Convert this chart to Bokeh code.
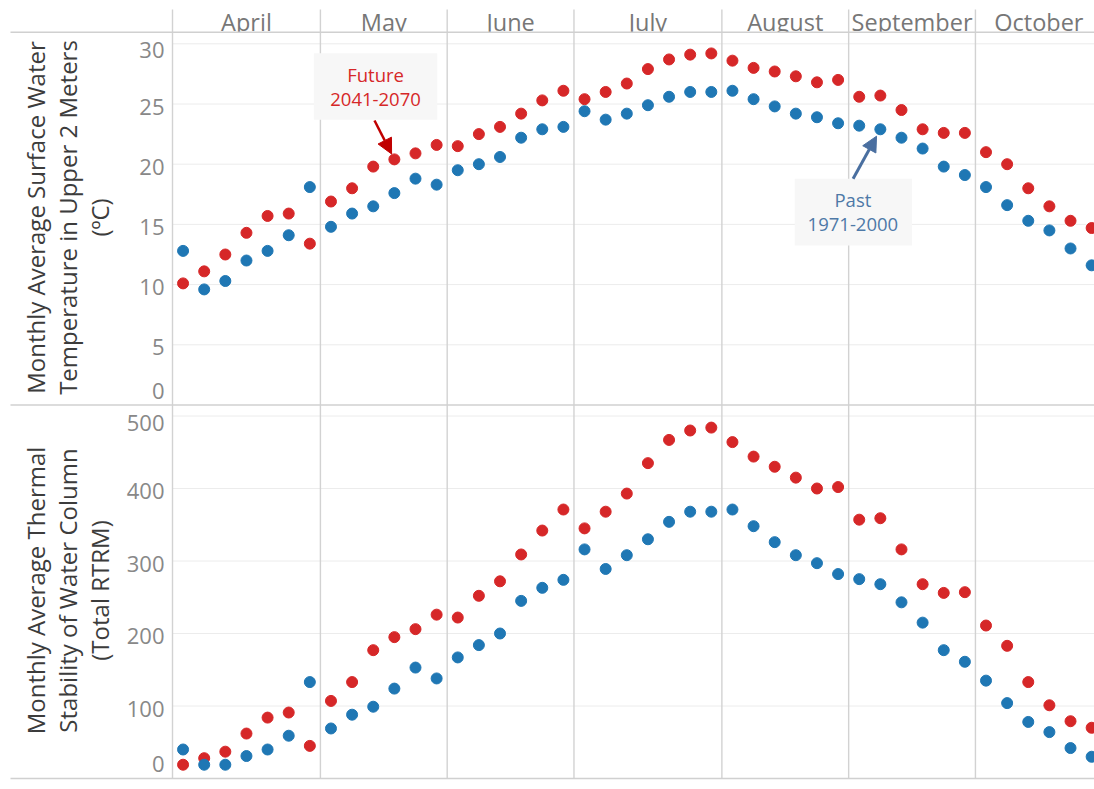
import numpy as np
from bokeh.plotting import figure
from bokeh.models import Range1d, Arrow, NormalHead
from bokeh.core.properties import value
from bokeh.embed import file_html
from bokeh.resources import INLINE

# ---------------- data ----------------
months = ["April", "May", "June", "July", "August", "September", "October"]
weeks_per_month = [7, 6, 6, 7, 6, 6, 6]

temp_ticks = [0, 5, 10, 15, 20, 25, 30]
stab_ticks = [0, 100, 200, 300, 400, 500]

past_temp = [12.8, 9.6, 10.3, 12.0, 12.8, 14.1, 18.1,
             14.8, 15.9, 16.5, 17.6, 18.8, 18.3,
             19.5, 20.0, 20.6, 22.2, 22.9, 23.1,
             24.4, 23.7, 24.2, 24.9, 25.6, 26.0, 26.0,
             26.1, 25.4, 24.8, 24.2, 23.9, 23.4,
             23.2, 22.9, 22.2, 21.3, 19.8, 19.1,
             18.1, 16.6, 15.3, 14.5, 13.0, 11.6]
future_temp = [10.1, 11.1, 12.5, 14.3, 15.7, 15.9, 13.4,
               16.9, 18.0, 19.8, 20.4, 20.9, 21.6,
               21.5, 22.5, 23.1, 24.2, 25.3, 26.1,
               25.4, 26.0, 26.7, 27.9, 28.7, 29.1, 29.2,
               28.6, 28.0, 27.7, 27.3, 26.8, 27.0,
               25.6, 25.7, 24.5, 22.9, 22.6, 22.6,
               21.0, 20.0, 18.0, 16.5, 15.3, 14.7]

past_stab = [40, 19, 19, 31, 40, 59, 133,
             69, 88, 99, 124, 153, 138,
             167, 184, 200, 245, 263, 274,
             316, 289, 308, 330, 354, 368, 368,
             371, 348, 326, 308, 297, 282,
             275, 268, 243, 215, 177, 161,
             135, 104, 78, 64, 42, 30]
future_stab = [19, 28, 37, 62, 84, 91, 45,
               107, 133, 177, 195, 206, 226,
               222, 252, 272, 309, 342, 371,
               345, 368, 393, 435, 467, 480, 484,
               464, 444, 430, 415, 400, 402,
               357, 359, 316, 268, 256, 257,
               211, 183, 133, 101, 79, 70]

temp_title = ["Monthly Average Surface Water", "Temperature in Upper 2 Meters", "(\u00baC)"]
stab_title = ["Monthly Average Thermal", "Stability of Water Column", "(Total RTRM)"]

future_note = ["Future", "2041-2070"]
past_note = ["Past", "1971-2000"]

# ---------------- layout constants (window pixels) ----------------
W, H = 1094, 785
CL, CT = 0, 0                 # canvas left / top in the window
SLOT0_PX = 172                # window x of the first week slot
SLOT_PX = 21.13               # width of a week slot
FONT = value("Open Sans")

BLUE = "#1f77b4"
RED = "#d62728"

# x positions of weeks (slot units) from the month structure
week_x, bounds = [], [0]
for n in weeks_per_month:
    s = bounds[-1]
    week_x += [s + k + 0.5 for k in range(n)]
    bounds.append(s + n)
month_centers = [(a + b) / 2 for a, b in zip(bounds[:-1], bounds[1:])]


def pane_range(px_a, v_a, px_b, v_b):
    """Linear range for the full canvas height given two (window px, value) pairs."""
    upp = (v_b - v_a) / (px_a - px_b)
    start = v_a - (CT + H - px_a) * upp
    end = v_a + (px_a - CT) * upp
    return Range1d(start, end)


x_slot = Range1d((CL - SLOT0_PX) / SLOT_PX, (CL + W - SLOT0_PX) / SLOT_PX)
x_end = x_slot.end

p = figure(width=W, height=H, output_backend="svg", toolbar_location=None,
           x_range=x_slot, y_range=Range1d(CT + H, CT),
           x_axis_type=None, y_axis_type=None, min_border=0,
           outline_line_color=None, background_fill_color="white",
           border_fill_color="white")
p.extra_x_ranges = {"px": Range1d(CL, CL + W)}
p.extra_y_ranges = {"temp": pane_range(404.5, 0, 43.3, 30),
                    "stab": pane_range(778, 0, 415.5, 500)}

# ---------------- header month labels (descenders clipped by the header rule) ----------------
p.text(x=month_centers, y=[21.3] * len(months), text=months,
       text_font=FONT, text_font_size="23.5px", text_color="#777777",
       text_align="center", text_baseline="middle")
p.quad(left=[0], right=[x_end], top=[32.2], bottom=[39], fill_color="white", line_color=None)

# ---------------- grid lines ----------------
gt = temp_ticks[1:]
p.segment(x0=[0] * len(gt), x1=[x_end] * len(gt), y0=gt, y1=gt,
          y_range_name="temp", line_color="#ececec", line_width=1)
gs = stab_ticks[1:]
p.segment(x0=[0] * len(gs), x1=[x_end] * len(gs), y0=gs, y1=gs,
          y_range_name="stab", line_color="#ececec", line_width=1)

# month boundary lines
mb = bounds[:-1]
p.segment(x0=mb, x1=mb, y0=[9] * len(mb), y1=[778] * len(mb),
          line_color="#d2d2d2", line_width=1.4)

# horizontal separators (header, between panes, bottom)
seps = [31.7, 404.5, 778]
p.segment(x0=[10] * 3, x1=[CL + W] * 3, y0=seps, y1=seps, x_range_name="px",
          line_color="#d0d0d0", line_width=1.4)

# ---------------- points ----------------
p.scatter(week_x, future_temp, y_range_name="temp", size=11, color=RED)
p.scatter(week_x, past_temp, y_range_name="temp", size=11, color=BLUE)
p.scatter(week_x, future_stab, y_range_name="stab", size=11, color=RED)
p.scatter(week_x, past_stab, y_range_name="stab", size=11, color=BLUE)

# ---------------- annotations ----------------
# Future note box (slot / temp units)
p.quad(left=[6.69], right=[12.53], top=[29.22], bottom=[23.69], y_range_name="temp",
       fill_color="#f7f7f7", line_color=None)
p.text(x=[9.61, 9.61], y=[27.43, 25.35], text=future_note, y_range_name="temp",
       text_font=FONT, text_font_size="18.5px", text_color=RED,
       text_align="center", text_baseline="middle")
# Past note box
p.quad(left=[29.45], right=[35.0], top=[18.79], bottom=[13.25], y_range_name="temp",
       fill_color="#f7f7f7", line_color=None)
p.text(x=[32.2, 32.2], y=[17.04, 14.97], text=past_note, y_range_name="temp",
       text_font=FONT, text_font_size="18.5px", text_color="#4e79a7",
       text_align="center", text_baseline="middle")


def arrow_to(i, series, sx, sy, color, width):
    tx, ty = week_x[i], series[i]
    f = 0.86
    ex, ey = sx + f * (tx - sx), sy + f * (ty - sy)
    p.add_layout(Arrow(end=NormalHead(size=15, fill_color=color, line_color=color),
                       x_start=sx, y_start=sy, x_end=ex, y_end=ey,
                       line_color=color, line_width=width, y_range_name="temp"))


arrow_to(10, future_temp, 9.56, 23.63, "#c00000", 2.5)
arrow_to(33, past_temp, 32.21, 18.79, "#4a6fa0", 3)

# ---------------- tick labels ----------------
def tick_offsets(ticks):
    out = []
    for t in ticks:
        if t == min(ticks):
            out.append(-14.5)
        elif t == max(ticks):
            out.append(6.5)
        else:
            out.append(2.5)
    return out


p.text(x=[164] * len(temp_ticks), y=temp_ticks, text=[str(t) for t in temp_ticks],
       x_range_name="px", y_range_name="temp", y_offset=tick_offsets(temp_ticks),
       text_font=FONT, text_font_size="22px", text_color="#888888",
       text_align="right", text_baseline="middle")
p.text(x=[164] * len(stab_ticks), y=stab_ticks, text=[str(t) for t in stab_ticks],
       x_range_name="px", y_range_name="stab", y_offset=tick_offsets(stab_ticks),
       text_font=FONT, text_font_size="22px", text_color="#888888",
       text_align="right", text_baseline="middle")

# ---------------- axis titles ----------------
title_x = [35, 67, 99]
p.text(x=title_x, y=[217] * 3, text=temp_title, x_range_name="px", angle=np.pi / 2,
       text_font=FONT, text_font_size="24px", text_color="#3c3c3c",
       text_align="center", text_baseline="middle")
p.text(x=title_x, y=[590] * 3, text=stab_title, x_range_name="px", angle=np.pi / 2,
       text_font=FONT, text_font_size="24px", text_color="#3c3c3c",
       text_align="center", text_baseline="middle")

open("out.html", "w").write(file_html(p, INLINE))
